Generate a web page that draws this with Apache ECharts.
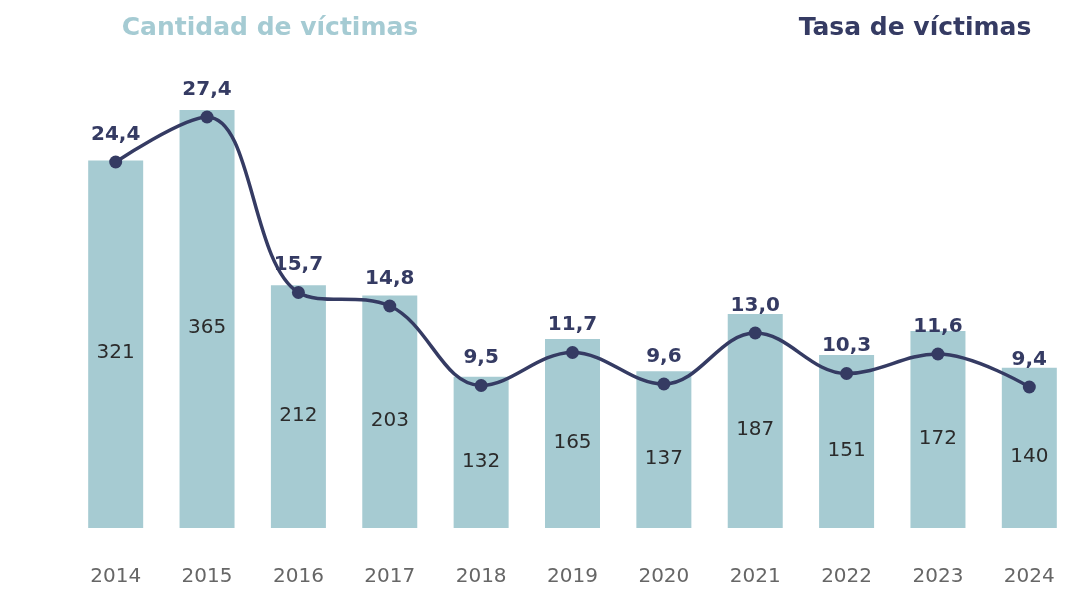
<!DOCTYPE html>
<html>
<head>
<meta charset="utf-8">
<script src="https://cdn.jsdelivr.net/npm/echarts@6/dist/echarts.min.js"></script>
<style>
  html, body { margin: 0; padding: 0; background: #fff; }
  #chart { width: 1078px; height: 605px; }
</style>
</head>
<body>
<div id="chart"></div>
<script>
// datos
var years = ['2014', '2015', '2016', '2017', '2018', '2019', '2020', '2021', '2022', '2023', '2024']
var cantidad = [321, 365, 212, 203, 132, 165, 137, 187, 151, 172, 140]
var tasa = [24.4, 27.4, 15.7, 14.8, 9.5, 11.7, 9.6, 13.0, 10.3, 11.6, 9.4]

var font = 'DejaVu Sans'
var chart = echarts.init(document.getElementById('chart'))

chart.setOption({
  animation: false,
  textStyle: { fontFamily: font },
  title: [
    {
      text: 'Cantidad de víctimas',
      left: 265,
      top: 11,
      textAlign: 'center',
      textStyle: { color: '#a5cbd3', fontSize: 25, fontWeight: 'bold', fontFamily: font },
    },
    {
      text: 'Tasa de víctimas',
      left: 910,
      top: 11,
      textAlign: 'center',
      textStyle: { color: '#353b63', fontSize: 25, fontWeight: 'bold', fontFamily: font },
    },
  ],
  grid: {
    left: 70,
    right: 3,
    top: 78,
    bottom: 77,
  },
  xAxis: {
    type: 'category',
    data: years,
    axisLine: { show: false },
    axisTick: { show: false },
    axisLabel: {
      color: '#666666',
      fontSize: 20,
      margin: 39,
      fontFamily: font,
    },
  },
  yAxis: [
    {
      type: 'value',
      min: 0,
      max: 393,
      show: false,
    },
    {
      type: 'value',
      min: 0,
      max: 30,
      show: false,
    },
  ],
  series: [
    {
      name: 'Cantidad de víctimas',
      type: 'bar',
      data: cantidad,
      barWidth: 55,
      itemStyle: { color: '#a6cbd2' },
      label: {
        show: true,
        position: 'inside',
        offset: [0, 9],
        color: '#2b2b2b',
        fontSize: 20,
        fontFamily: font,
      },
    },
    {
      name: 'Tasa de víctimas',
      type: 'line',
      yAxisIndex: 1,
      data: tasa,
      smooth: 0.38,
      symbol: 'circle',
      symbolSize: 13,
      lineStyle: { color: '#353b63', width: 3.5 },
      itemStyle: { color: '#353b63' },
      label: {
        show: true,
        position: 'top',
        distance: 11,
        color: '#353b63',
        fontSize: 20,
        fontWeight: 'bold',
        fontFamily: font,
        formatter: function (p) {
          return p.value.toFixed(1).replace('.', ',')
        },
      },
    },
  ],
})
</script>
</body>
</html>
